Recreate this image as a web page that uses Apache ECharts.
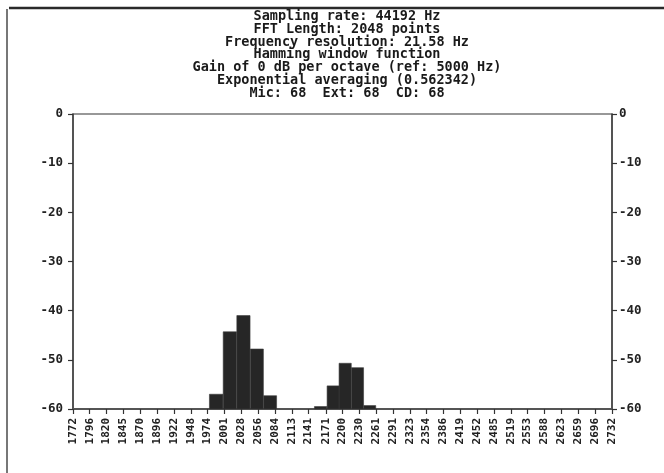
<!DOCTYPE html>
<html>
<head>
<meta charset="utf-8">
<script src="https://cdn.jsdelivr.net/npm/echarts@6/dist/echarts.min.js"></script>
<style>
  html, body { margin: 0; padding: 0; background: #fff; }
  #chart { width: 664px; height: 473px; }
</style>
</head>
<body>
<div id="chart"></div>
<script>
// Analyzer header lines
const headerLines = [
  'Sampling rate: 44192 Hz',
  'FFT Length: 2048 points',
  'Frequency resolution: 21.58 Hz',
  'Hamming window function',
  'Gain of 0 dB per octave (ref: 5000 Hz)',
  'Exponential averaging (0.562342)',
  'Mic: 68  Ext: 68  CD: 68'
];

// Frequency tick labels (Hz), log-spaced
const freqTicks = [1772, 1796, 1820, 1845, 1870, 1896, 1922, 1948, 1974, 2001, 2028,
  2056, 2084, 2113, 2141, 2171, 2200, 2230, 2261, 2291, 2323, 2354, 2386, 2419,
  2452, 2485, 2519, 2553, 2588, 2623, 2659, 2696, 2732];

// Level tick labels (dB)
const levelTicks = [0, -10, -20, -30, -40, -50, -60];

// FFT bin width (Hz)
const binHz = 21.58;

// Bin centre frequencies (Hz) and their levels (dB)
const binFreqs  = [1988, 2010, 2032, 2054, 2076, 2162, 2184, 2205, 2227, 2249];
const binLevels = [-57, -44.3, -41, -47.8, -57.3, -59.5, -55.3, -50.7, -51.6, -59.3];

const floorDb = levelTicks[levelTicks.length - 1];
const topDb = levelTicks[0];
const barData = binFreqs.map((f, i) => [f, binLevels[i]]);

const labelFont = 'DejaVu Sans Mono';
const chart = echarts.init(document.getElementById('chart'));

chart.setOption({
  animation: false,
  backgroundColor: '#ffffff',
  title: {
    text: headerLines.join('\n'),
    left: 342,
    top: 5,
    textAlign: 'center',
    textStyle: {
      fontFamily: labelFont,
      fontWeight: 'bold',
      fontSize: 13.5,
      lineHeight: 12.8,
      color: '#1a1a1a'
    }
  },
  grid: {
    left: 73, right: 52, top: 114, bottom: 64,
    show: true, borderColor: '#333', borderWidth: 1.2, backgroundColor: 'transparent'
  },
  xAxis: {
    type: 'log',
    logBase: 10,
    min: freqTicks[0],
    max: freqTicks[freqTicks.length - 1],
    axisLine: { show: true, onZero: false, lineStyle: { color: '#555', width: 2 } },
    axisTick: { show: true, customValues: freqTicks, length: 5, lineStyle: { color: '#333', width: 1.2 } },
    splitLine: { show: false },
    minorTick: { show: false },
    axisLabel: {
      customValues: freqTicks,
      rotate: 90,
      margin: 9,
      fontFamily: labelFont,
      fontWeight: 'bold',
      fontSize: 11,
      color: '#222',
      formatter: v => String(Math.round(v))
    }
  },
  yAxis: [0, 1].map(side => ({
    type: 'value',
    position: side === 0 ? 'left' : 'right',
    min: floorDb,
    max: topDb,
    interval: 10,
    axisLine: { show: true, lineStyle: { color: '#444', width: 1.5 } },
    axisTick: { show: true, length: 5, lineStyle: { color: '#333', width: 1.2 } },
    splitLine: { show: false },
    axisLabel: {
      margin: side === 0 ? 10 : 7,
      fontFamily: labelFont,
      fontWeight: 'bold',
      fontSize: 12.5,
      color: '#222'
    }
  })),
  graphic: [
    { type: 'line', shape: { x1: 9, y1: 8, x2: 664, y2: 8 }, style: { stroke: '#2a2a2a', lineWidth: 2.5 } },
    { type: 'line', shape: { x1: 7, y1: 9, x2: 7, y2: 473 }, style: { stroke: '#777', lineWidth: 2 } }
  ],
  series: [{
    type: 'custom',
    coordinateSystem: 'cartesian2d',
    xAxisIndex: 0,
    yAxisIndex: 0,
    data: barData,
    encode: { x: 0, y: 1 },
    renderItem: (params, api) => {
      const f = api.value(0);
      const db = api.value(1);
      const topLeft = api.coord([f - binHz / 2, db]);
      const bottomRight = api.coord([f + binHz / 2, floorDb]);
      return {
        type: 'rect',
        shape: {
          x: topLeft[0],
          y: topLeft[1],
          width: bottomRight[0] - topLeft[0],
          height: bottomRight[1] - topLeft[1]
        },
        style: { fill: '#262626', stroke: '#3a3a3a', lineWidth: 0.6 }
      };
    }
  }]
});
</script>
</body>
</html>
